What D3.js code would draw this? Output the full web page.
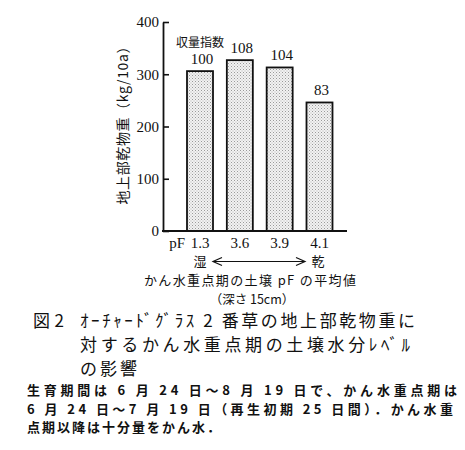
<!DOCTYPE html>
<html><head><meta charset="utf-8">
<script src="https://cdn.jsdelivr.net/npm/d3@7"></script>
<style>body{margin:0;background:#fff}svg{display:block}</style>
</head><body>
<svg id="c" width="465" height="450"></svg>
<script>
const categories = ["1.3", "3.6", "3.9", "4.1"];
const dryMatter = [306, 327, 313, 246];
const yieldIndex = [100, 108, 104, 83];
const yTicks = [0, 100, 200, 300, 400];

const svg = d3.select("#c");
const serif = "'Liberation Serif','DejaVu Serif',serif";
const jp = "'Noto Sans CJK JP','Noto Sans CJK SC',sans-serif";

const defs = svg.append("defs");
const pat = defs.append("pattern").attr("id","dots").attr("patternUnits","userSpaceOnUse")
  .attr("width",3).attr("height",3);
pat.append("rect").attr("width",3).attr("height",3).attr("fill","#f2f2f2");
pat.append("rect").attr("x",0).attr("y",0).attr("width",1).attr("height",1).attr("fill","#9a9a9a");
pat.append("rect").attr("x",1.5).attr("y",1.5).attr("width",1).attr("height",1).attr("fill","#b5b5b5");

const axisX = 163, baseY = 231, topY = 22;
const y = d3.scaleLinear().domain([0, 400]).range([baseY, topY]);
const x = d3.scalePoint().domain(categories).range([200, 319.5]);
const bw = 26;

// bars
svg.selectAll("rect.bar").data(categories).enter().append("rect")
  .attr("class","bar")
  .attr("x", (d) => x(d) - bw/2)
  .attr("y", (d,i) => y(dryMatter[i]))
  .attr("width", bw)
  .attr("height", (d,i) => baseY - y(dryMatter[i]))
  .attr("fill","url(#dots)").attr("stroke","#111").attr("stroke-width",1.8);

// y axis
const yAxis = d3.axisLeft(y).tickValues(yTicks).tickSizeInner(-6).tickSizeOuter(0).tickPadding(4)
  .tickFormat(d3.format("d"));
const ga = svg.append("g").attr("transform",`translate(${axisX},0)`).call(yAxis);
ga.select(".domain").attr("stroke","#111").attr("stroke-width",1.8);
ga.selectAll(".tick line").attr("stroke","#111").attr("stroke-width",1.6);
ga.selectAll(".tick text").attr("font-family",serif).attr("font-size",15).attr("fill","#111");

// baseline
svg.append("line").attr("x1",axisX-1).attr("x2",347).attr("y1",baseY).attr("y2",baseY)
  .attr("stroke","#111").attr("stroke-width",1.8);

// x tick labels
svg.selectAll("text.xl").data(categories).enter().append("text")
  .attr("class","xl").attr("x", d => x(d)).attr("y", 248)
  .attr("text-anchor","middle").attr("font-family",serif).attr("font-size",15).attr("fill","#111")
  .text(d => d);
svg.append("text").attr("x",185).attr("y",248).attr("text-anchor","end")
  .attr("font-family",serif).attr("font-size",15).attr("fill","#111").text("pF");

// value labels
svg.selectAll("text.vl").data(categories).enter().append("text")
  .attr("class","vl").attr("x", d => x(d) + 2).attr("y", (d,i) => y(dryMatter[i]) - 7)
  .attr("text-anchor","middle").attr("font-family",serif).attr("font-size",15).attr("fill","#111")
  .text((d,i) => yieldIndex[i]);
svg.append("text").attr("x",200).attr("y",47).attr("text-anchor","middle")
  .attr("font-family",jp).attr("font-size",12).attr("fill","#111").text("収量指数");

// y label
svg.append("text").attr("transform","translate(128,122) rotate(-90)")
  .attr("text-anchor","middle").attr("font-family",jp).attr("font-size",14).attr("fill","#111")
  .attr("textLength",165).attr("lengthAdjust","spacing")
  .text("地上部乾物重（kg/10a）");

// wet/dry arrow
svg.append("text").attr("x",200).attr("y",266).attr("text-anchor","middle")
  .attr("font-family",jp).attr("font-size",13).attr("fill","#111").text("湿");
svg.append("text").attr("x",318).attr("y",266).attr("text-anchor","middle")
  .attr("font-family",jp).attr("font-size",13).attr("fill","#111").text("乾");
const arrow = d3.path();
arrow.moveTo(213,261.5); arrow.lineTo(305,261.5);
svg.append("path").attr("d",arrow.toString()).attr("stroke","#111").attr("stroke-width",1.2);
const heads = d3.path();
heads.moveTo(222,257.5); heads.lineTo(213,261.5); heads.lineTo(222,265.5);
heads.moveTo(296,257.5); heads.lineTo(305,261.5); heads.lineTo(296,265.5);
svg.append("path").attr("d",heads.toString()).attr("fill","none").attr("stroke","#111").attr("stroke-width",1.2);

svg.append("text").attr("x",250).attr("y",285).attr("text-anchor","middle")
  .attr("font-family",jp).attr("font-size",13).attr("fill","#111")
  .attr("textLength",212).attr("lengthAdjust","spacing")
  .text("かん水重点期の土壌 pF の平均値");
svg.append("text").attr("x",252).attr("y",304).attr("text-anchor","middle")
  .attr("font-family",jp).attr("font-size",12.5).attr("fill","#111").text("（深さ 15cm）");

// title (one wrapped text block)
const titleLines = ["ｵｰﾁｬｰﾄﾞｸﾞﾗｽ 2 番草の地上部乾物重に", "対するかん水重点期の土壌水分ﾚﾍﾞﾙ", "の影響"];
const titleLens = [335, 330, 57];
const tt = svg.append("text").attr("font-family",jp).attr("font-size",17).attr("fill","#111");
tt.append("tspan").attr("x",33).attr("y",327).attr("textLength",31).attr("lengthAdjust","spacing").text("図 2");
titleLines.forEach((t,i) => {
  tt.append("tspan").attr("x",80).attr("y",327 + i*24).text(t)
    .attr("textLength",titleLens[i]).attr("lengthAdjust","spacing");
});

// note (one wrapped text block)
const noteLines = ["生育期間は 6 月 24 日～8 月 19 日で、かん水重点期は",
  "6 月 24 日～7 月 19 日（再生初期 25 日間）．かん水重",
  "点期以降は十分量をかん水．"];
const noteLens = [430, 426, 193];
const nt = svg.append("text").attr("font-family",jp).attr("font-size",13)
  .attr("font-weight","bold").attr("fill","#111");
noteLines.forEach((t,i) => {
  nt.append("tspan").attr("x",27).attr("y",395 + i*18.5)
    .attr("textLength",noteLens[i]).attr("lengthAdjust","spacing").text(t);
});
</script>
</body></html>
